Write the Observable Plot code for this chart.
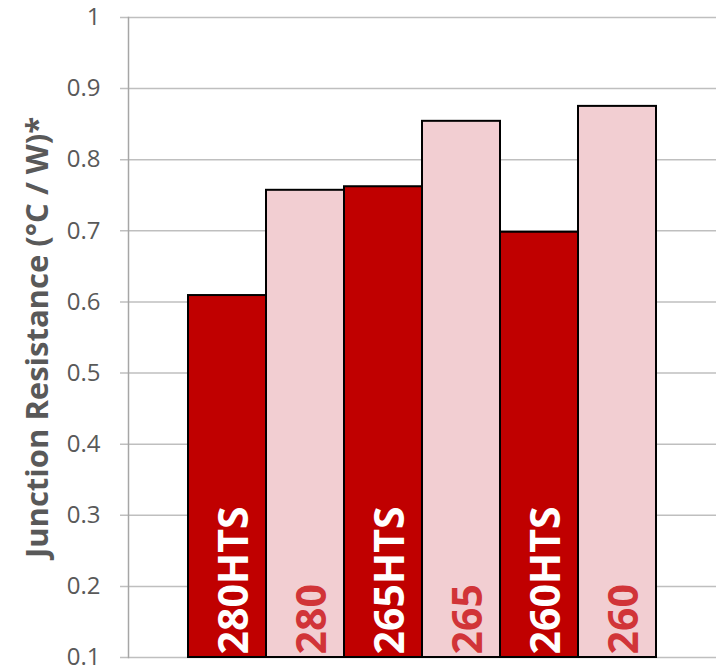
<!DOCTYPE html>
<html>
<head>
<meta charset="utf-8">
<script src="https://cdn.jsdelivr.net/npm/d3@7"></script>
<script src="https://cdn.jsdelivr.net/npm/@observablehq/plot@0.6"></script>
<style>
  body { margin: 0; background: #fff; }
  #chart svg { font-family: "Open Sans", Lato, sans-serif; }
</style>
</head>
<body>
<div id="chart"></div>
<script>
const names = ["280HTS", "280", "265HTS", "265", "260HTS", "260"];
const values = [0.609, 0.757, 0.762, 0.854, 0.698, 0.875];
const isHTS = [true, false, true, false, true, false];
const yTicks = [0.1, 0.2, 0.3, 0.4, 0.5, 0.6, 0.7, 0.8, 0.9, 1];
const yTitle = "Junction Resistance (°C / W)*";

const data = names.map((n, i) => ({name: n, value: values[i], hts: isHTS[i]}));

const chart = Plot.plot({
  width: 723,
  height: 671,
  marginLeft: 128,
  marginRight: 7,
  marginTop: 17,
  marginBottom: 14,
  x: {domain: names, paddingInner: 0, paddingOuter: 0.75, axis: null},
  y: {domain: [0.1, 1], ticks: yTicks, label: null, axis: null},
  marks: [
    Plot.ruleY(yTicks, {stroke: "#bfbfbf", strokeWidth: 1.5, insetLeft: -8}),
    Plot.frame({anchor: "left", stroke: "#a6a6a6", strokeWidth: 1.5}),
    Plot.axisY({ticks: yTicks, tickSize: 0, tickPadding: 28, fontSize: 24, color: "#595959", label: null,
      tickFormat: d => String(+d.toFixed(1))}),
    Plot.barY(data, {x: "name", y1: () => 0.1, y2: "value",
      fill: d => d.hts ? "#C00000" : "#F2CED2", stroke: "#000", strokeWidth: 2}),
    Plot.text(data, {x: "name", y: () => 0.1, text: "name", rotate: -90, textAnchor: "start",
      dx: 7, dy: -3, fontSize: 41, fontWeight: "bold",
      fill: d => d.hts ? "#ffffff" : "#D13438"}),
    Plot.text([yTitle], {frameAnchor: "left", textAnchor: "middle", rotate: -90, dx: -90, fontSize: 31, fontWeight: "bold", fill: "#595959"})
  ]
});
document.getElementById("chart").appendChild(chart);
</script>
</body>
</html>
